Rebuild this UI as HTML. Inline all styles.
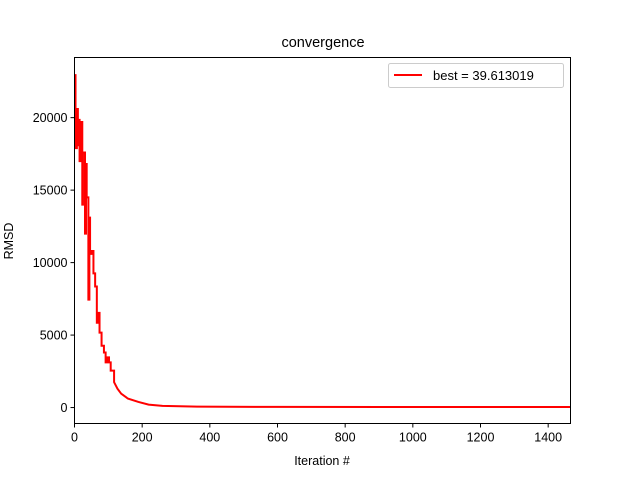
<!DOCTYPE html>
<html><head><meta charset="utf-8"><style>
body{margin:0;background:#fff}
text{font-family:"Liberation Sans","DejaVu Sans",sans-serif;fill:#000}
</style></head><body>
<svg id="chart" width="633" height="475" xmlns="http://www.w3.org/2000/svg">
<rect width="633" height="475" fill="#fff"/>
<text x="323" y="47" font-size="14.5" text-anchor="middle">convergence</text>
<g id="xticks"></g>
<g id="yticks"></g>
<polyline id="line" fill="none" stroke="#ff0000" stroke-width="2" stroke-linejoin="miter"/>
<rect x="74.5" y="57.5" width="496" height="366" fill="none" stroke="#000" stroke-width="1"/>
<text x="322" y="465" font-size="12.5" text-anchor="middle">Iteration #</text>
<text transform="translate(13,241) rotate(-90)" font-size="12.5" text-anchor="middle">RMSD</text>
<g>
<rect x="388.5" y="63.5" width="175" height="24" rx="2" fill="#fff" stroke="#ccc"/>
<line x1="394" y1="75" x2="422" y2="75" stroke="#ff0000" stroke-width="2"/>
<text x="433" y="80" font-size="13">best = 39.613019</text>
</g>
</svg>
<script>
const iterations=[0,3,3,7,10,13,15,20,23,25,31,34,36,40,41,44,46,51,56,61,66,69,74,80,87,92,97,102,107,117,127,138,158,189,219,260,362,600,1000,1466];
const rmsd=[21500,23000,17900,20600,18100,19850,17000,19700,14000,17600,12000,16800,14500,14500,7450,13100,10600,10800,9260,8350,5850,6530,5170,4260,3800,3120,3460,3120,2550,1750,1300,956,615,387,205,114,60,45,41,39.6];
const xTicks=[0,200,400,600,800,1000,1200,1400];
const yTicks=[0,5000,10000,15000,20000];
const X0=74.5,X1=570.5,Y0=423.5,Y1=57.5,xmin=0,xmax=1466,ymin=-1100,ymax=24150;
const sx=v=>X0+(v-xmin)/(xmax-xmin)*(X1-X0);
const sy=v=>Y0-(v-ymin)/(ymax-ymin)*(Y0-Y1);
const NS="http://www.w3.org/2000/svg";
// step-like drawing: each new value starts with a vertical jump
const pts=[];
iterations.forEach((x,i)=>{
 if(i>0&&i<30){pts.push(sx(x)+','+sy(rmsd[i-1]));}
 pts.push(sx(x)+','+sy(rmsd[i]));
});
document.getElementById('line').setAttribute('points',pts.join(' '));
const xg=document.getElementById('xticks');
xTicks.forEach(t=>{
 const l=document.createElementNS(NS,'line');
 
 
 l.setAttribute('x1',sx(t));l.setAttribute('x2',sx(t));l.setAttribute('y1',Y0);l.setAttribute('y2',Y0+4);l.setAttribute('stroke','#000');
 xg.appendChild(l);
 const tx=document.createElementNS(NS,'text');
 
 
 tx.setAttribute('x',sx(t));tx.setAttribute('y',Y0+18);tx.setAttribute('font-size','12.5');tx.setAttribute('text-anchor','middle');
 tx.textContent=t;xg.appendChild(tx);
});
const yg=document.getElementById('yticks');
yTicks.forEach(t=>{
 const l=document.createElementNS(NS,'line');
 
 
 l.setAttribute('x1',X0-4);l.setAttribute('x2',X0);l.setAttribute('y1',sy(t));l.setAttribute('y2',sy(t));l.setAttribute('stroke','#000');
 yg.appendChild(l);
 const tx=document.createElementNS(NS,'text');
 
 
 tx.setAttribute('x',X0-7);tx.setAttribute('y',sy(t)+4.5);tx.setAttribute('font-size','12.5');tx.setAttribute('text-anchor','end');
 tx.textContent=t;yg.appendChild(tx);
});
</script>
</body></html>
